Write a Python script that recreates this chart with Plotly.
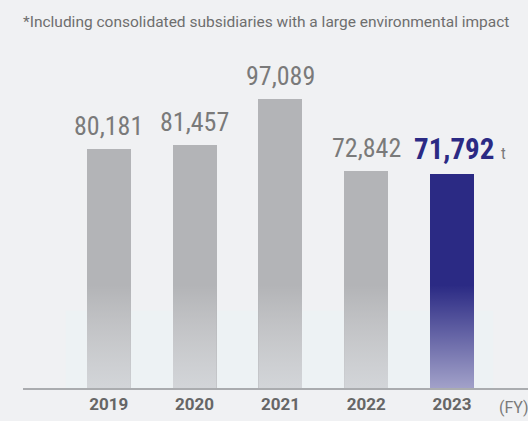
import plotly.graph_objects as go

# data
years = ['2019', '2020', '2021', '2022', '2023']
emissions = [80181, 81457, 97089, 72842, 71792]
unit = 't'
note = '*Including consolidated subsidiaries with a large environmental impact'
axis_suffix = '(FY)'

GRAY = '#b3b4b7'
NAVY = '#2b2a84'
LABEL_GRAY = '#7a7a7a'
BAR_W = 0.513
FADE_TOP = 34500   # value where the soft fade at the bottom of the bars begins
BAND_TOP = 26000   # height of the pale band behind the bars
Y_MAX = 110030
VALUE_FONT = 'Liberation Sans Narrow, Roboto Condensed, Roboto, sans-serif'
TEXT_FONT = 'Roboto, Noto Sans, sans-serif'

x_idx = list(range(len(years)))
colors = [GRAY] * (len(years) - 1) + [NAVY]
fade_colors = ['rgba(236,240,244,0.55)'] * (len(years) - 1) + ['rgba(255,255,255,0.56)']

fig = go.Figure()

fig.add_trace(go.Bar(
	x=x_idx,
	y=emissions,
	width=BAR_W,
	marker=dict(color=colors, line=dict(width=0)),
	hoverinfo='skip',
	showlegend=False,
))

# fade the lower part of every bar
for i, v in enumerate(emissions):
	h = min(FADE_TOP, v)
	x0, x1 = i - BAR_W / 2, i + BAR_W / 2
	fig.add_trace(go.Scatter(
		x=[x0, x1, x1, x0, x0],
		y=[0, 0, h, h, 0],
		mode='lines',
		line=dict(width=0),
		fill='toself',
		fillgradient=dict(
			type='vertical',
			colorscale=[[0, fade_colors[i]], [1, 'rgba(255,255,255,0)']],
			start=0,
			stop=FADE_TOP,
		),
		hoverinfo='skip',
		showlegend=False,
	))

annotations = []
for i, v in enumerate(emissions[:-1]):
	annotations.append(dict(
		x=i, y=v, xref='x', yref='y',
		text=f'{v:,}',
		showarrow=False, yanchor='bottom', yshift=6,
		font=dict(family=VALUE_FONT, size=26, color=LABEL_GRAY),
	))
annotations.append(dict(
	x=x_idx[-1], y=emissions[-1], xref='x', yref='y',
	text=f'<b>{emissions[-1]:,}</b> <span style="font-size:16px;color:{LABEL_GRAY}">{unit}</span>',
	showarrow=False, yanchor='bottom', yshift=6, xshift=8,
	font=dict(family=VALUE_FONT, size=29, color=NAVY),
))
annotations.append(dict(
	x=0, y=1, xref='paper', yref='paper',
	text=note, showarrow=False, xanchor='left', yanchor='middle',
	xshift=-2, yshift=38,
	font=dict(family=TEXT_FONT, size=15.5, color='#6e6e6e'),
))
annotations.append(dict(
	x=0.9386, y=0, xref='paper', yref='paper',
	text=axis_suffix, showarrow=False, xanchor='left', yanchor='middle',
	yshift=-19,
	font=dict(family=TEXT_FONT, size=16, color='#7a7a7a'),
))

fig.update_layout(
	width=528,
	height=421,
	margin=dict(l=23, r=0, t=60, b=33),
	paper_bgcolor='#f0f1f3',
	plot_bgcolor='#f0f1f3',
	bargap=0,
	annotations=annotations,
	shapes=[dict(
		type='rect', xref='x', yref='y', layer='below',
		x0=-0.5, x1=4.48, y0=0, y1=BAND_TOP,
		fillcolor='#edf2f4', line=dict(width=0),
	)],
	xaxis=dict(
		range=[-1.0, 4.886],
		tickvals=x_idx,
		ticktext=years,
		tickfont=dict(family=TEXT_FONT, size=17, color='#666666', weight='bold'),
		showgrid=False,
		zeroline=False,
		showline=True,
		linecolor='#aaacaf',
		linewidth=2,
		ticks='',
		fixedrange=True,
	),
	yaxis=dict(range=[0, Y_MAX], visible=False, fixedrange=True),
)

# drop the browser's default page margin so the figure sits at the window corner
fig.write_html('out.html', config={'displayModeBar': False},
	post_script="document.body.style.margin='0';document.body.style.background='#f0f1f3';")
